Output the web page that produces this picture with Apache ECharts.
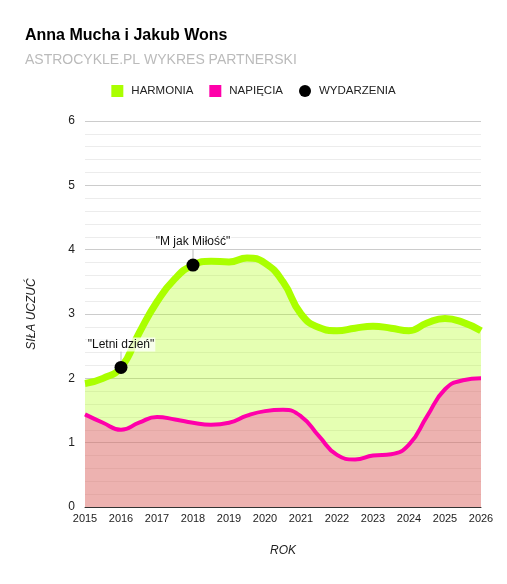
<!DOCTYPE html>
<html>
<head>
<meta charset="utf-8">
<script src="https://cdn.jsdelivr.net/npm/echarts@6/dist/echarts.min.js"></script>
<style>
html,body{margin:0;padding:0;background:#fff;}
#c{width:507px;height:584px;}
</style>
</head>
<body>
<div id="c"></div>
<script>
const years = [2015,2015.5,2016,2016.5,2017,2017.5,2018,2018.5,2019,2019.5,2020,2020.5,2021,2021.5,2022,2022.5,2023,2023.5,2024,2024.5,2025,2025.5,2026];
const harmonia = [1.92,2.0,2.17,2.70,3.19,3.55,3.76,3.82,3.81,3.87,3.79,3.50,3.0,2.79,2.74,2.78,2.81,2.78,2.74,2.86,2.93,2.87,2.74];
const napiecia = [1.44,1.31,1.20,1.31,1.40,1.36,1.31,1.28,1.31,1.42,1.49,1.51,1.41,1.10,0.81,0.74,0.80,0.82,0.97,1.41,1.83,1.97,2.0];
const eventYears = [2016, 2018];
const eventValues = [2.17, 3.76];
const eventNames = ['"Letni dzień"', '"M jak Miłość"'];
const xTicks = {min: 2015, max: 2026, step: 1};
const yTicks = {min: 0, max: 6, step: 1};

const font = '"Liberation Sans", Arial, sans-serif';
const chart = echarts.init(document.getElementById('c'), null, {renderer: 'canvas'});
chart.setOption({
  animation: false,
  textStyle: {fontFamily: font},
  title: {
    text: 'Anna Mucha i Jakub Wons',
    subtext: 'ASTROCYKLE.PL WYKRES PARTNERSKI',
    left: 20, top: 23,
    itemGap: 9,
    textStyle: {fontFamily: font, fontSize: 16, fontWeight: 'bold', color: '#000'},
    subtextStyle: {fontFamily: font, fontSize: 14, color: '#bbb'}
  },
  legend: {
    top: 80, left: 'center',
    itemWidth: 12, itemHeight: 12, itemGap: 16,
    textStyle: {fontFamily: font, fontSize: 11.5, color: '#222', padding: [0,0,0,3]},
    data: [
      {name: 'HARMONIA', icon: 'rect'},
      {name: 'NAPIĘCIA', icon: 'rect'},
      {name: 'WYDARZENIA', icon: 'circle'}
    ]
  },
  grid: {left: 85, right: 26, top: 121, bottom: 77},
  xAxis: {
    type: 'value', min: xTicks.min, max: xTicks.max, interval: xTicks.step,
    name: 'ROK', nameLocation: 'middle', nameGap: 38,
    nameTextStyle: {fontFamily: font, fontStyle: 'italic', fontSize: 12, color: '#222'},
    axisLine: {show: true, lineStyle: {color: '#333', width: 1}},
    axisTick: {show: false},
    splitLine: {show: false},
    axisLabel: {fontSize: 11, color: '#222', margin: 6, formatter: v => String(v)}
  },
  yAxis: {
    type: 'value', min: yTicks.min, max: yTicks.max, interval: yTicks.step,
    name: 'SIŁA UCZUĆ', nameLocation: 'middle', nameGap: 47,
    nameTextStyle: {fontFamily: font, fontStyle: 'italic', fontSize: 12, color: '#222'},
    axisLine: {show: false},
    axisTick: {show: false},
    axisLabel: {fontSize: 12, color: '#222', margin: 10},
    splitLine: {show: true, lineStyle: {color: '#ccc', width: 1}},
    minorTick: {show: false, splitNumber: 5},
    minorSplitLine: {show: true, lineStyle: {color: '#ececec', width: 1}}
  },
  series: [
    {
      name: 'HARMONIA', type: 'line', smooth: 0.5, showSymbol: false, symbol: 'none',
      color: '#aaff00',
      lineStyle: {color: '#aaff00', width: 7},
      areaStyle: {color: '#aaff00', opacity: 0.3},
      data: years.map((y, i) => [y, harmonia[i]]),
      z: 2
    },
    {
      name: 'NAPIĘCIA', type: 'line', smooth: 0.5, showSymbol: false, symbol: 'none',
      color: '#ff00aa',
      lineStyle: {color: '#ff00aa', width: 4},
      areaStyle: {color: '#ff00aa', opacity: 0.3},
      data: years.map((y, i) => [y, napiecia[i]]),
      z: 3
    },
    {
      name: 'WYDARZENIA', type: 'scatter', symbol: 'circle', symbolSize: 13,
      color: '#000',
      itemStyle: {color: '#000', opacity: 1},
      data: eventYears.map((y, i) => ({value: [y, eventValues[i]], name: eventNames[i]})),
      label: {
        show: true, position: 'inside', formatter: p => p.name,
        fontFamily: font, fontSize: 12, color: '#111',
        backgroundColor: 'rgba(255,255,255,0.75)', padding: [1, 1]
      },
      labelLayout: {dy: -23},
      labelLine: {show: true, lineStyle: {color: '#bbb', width: 1}},
      z: 5
    }
  ]
});
</script>
</body>
</html>
